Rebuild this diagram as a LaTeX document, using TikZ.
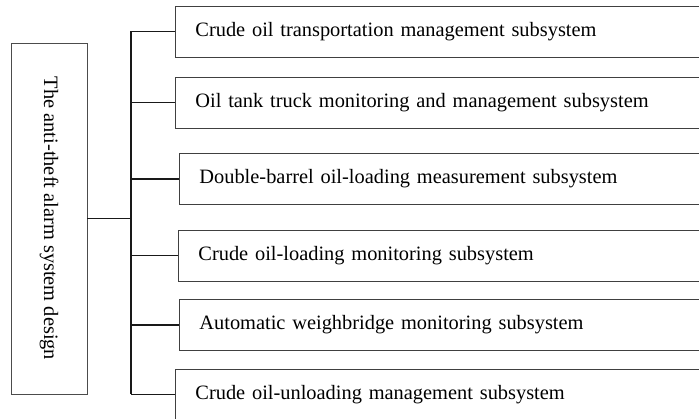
\documentclass[tikz,border=0pt]{standalone}
\usepackage{fontspec}
\setmainfont{Liberation Serif}
\usetikzlibrary{positioning}

\begin{document}
\begin{tikzpicture}[x=1pt,y=-1pt,
    sub/.style={draw=black!75,line width=0.8pt,anchor=west,minimum height=51pt,text width=600pt,inner xsep=20pt,align=left,font=\fontsize{20.4}{24}\selectfont},
    design/.style={draw=black!70,line width=0.8pt,minimum width=351pt,minimum height=76pt,rotate=-90,font=\fontsize{20.4}{24}\selectfont},
    link/.style={draw=black!90,line width=1.1pt}]
    \useasboundingbox (0,0) rectangle (699,419);
    \clip (0,0) rectangle (699,419);
    \node[design] (Design) at (49,218.5) {The anti-theft alarm system design};
    %
    \node[sub] (Transport) at (175,31.5) {Crude oil transportation management subsystem};
    \node[sub] (Truck) at (175,102.5) {Oil tank truck monitoring and management subsystem};
    \node[sub] (Barrel) at (179,179) {Double-barrel oil-loading measurement subsystem};
    \node[sub] (Loading) at (178,255.5) {Crude oil-loading monitoring subsystem};
    \node[sub] (Weigh) at (179,325) {Automatic weighbridge monitoring subsystem};
    \node[sub] (Unloading) at (175,394.5) {Crude oil-unloading management subsystem};
    %
    \coordinate (fork) at (131,218.5);
    \draw[link] (Design.north) -- (fork);
    \draw[link] (Transport.west -| fork) -- (Unloading.west -| fork);
    \foreach \n in {Transport,Truck,Barrel,Loading,Weigh,Unloading}
        \draw[link] (\n.west -| fork) -- (\n.west);
\end{tikzpicture}
\end{document}
